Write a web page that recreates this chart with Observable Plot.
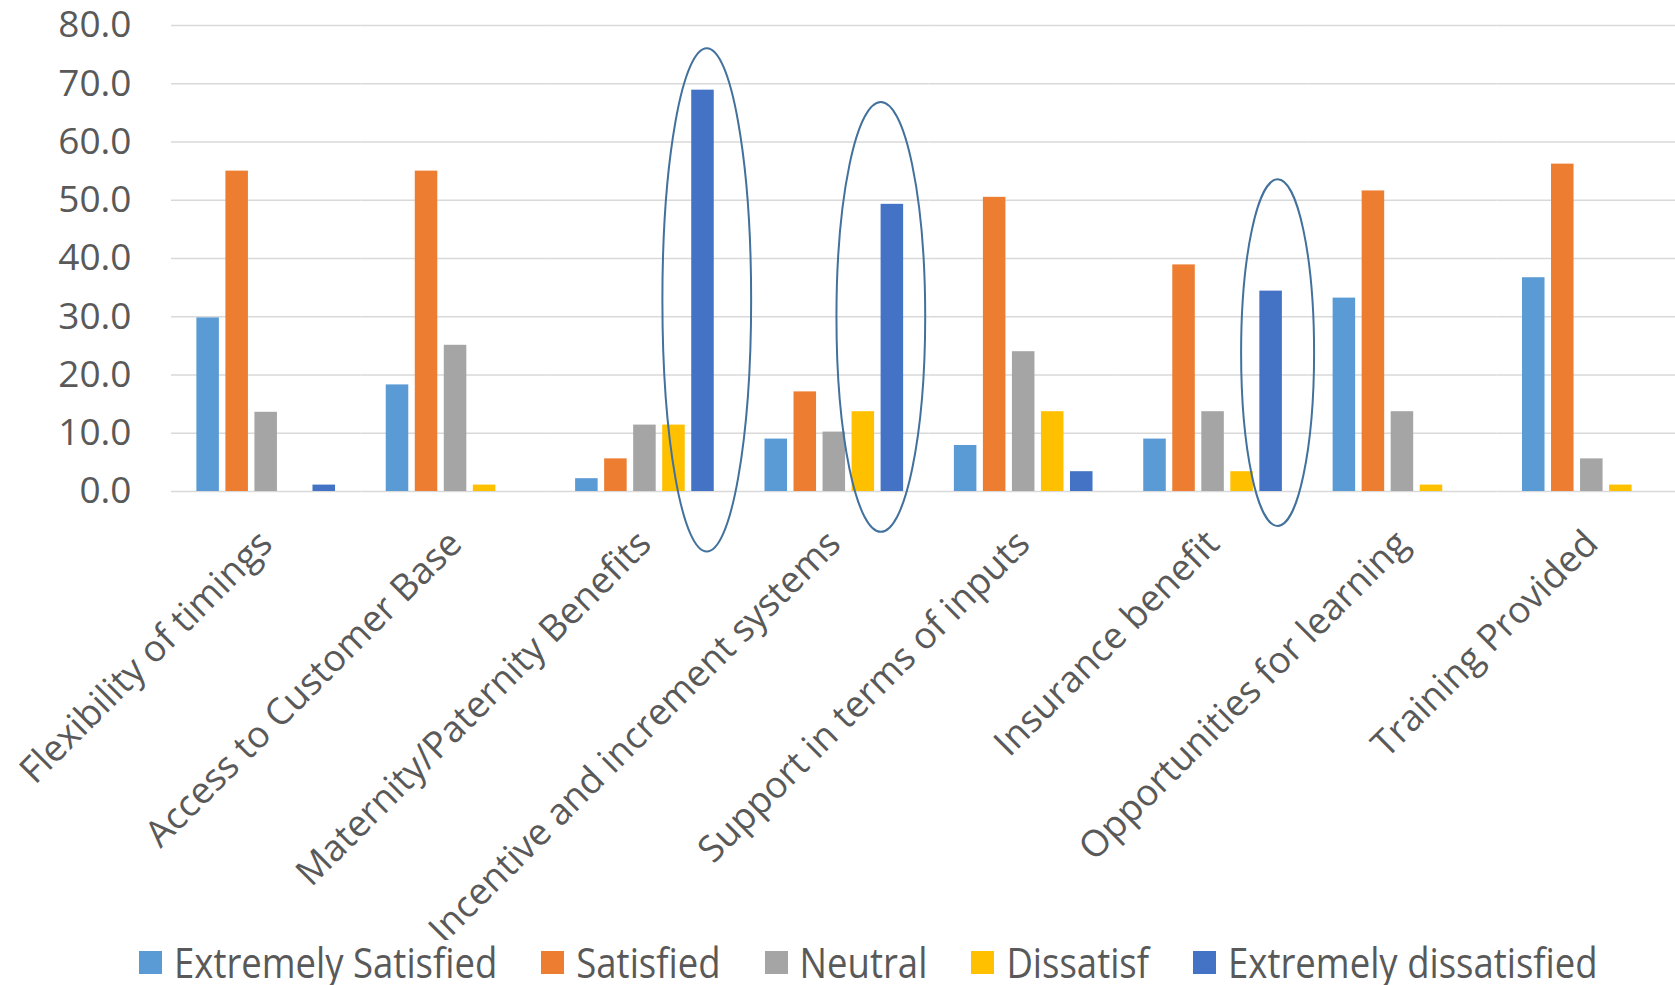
<!DOCTYPE html>
<html>
<head>
<meta charset="utf-8">
<script src="https://cdn.jsdelivr.net/npm/d3@7"></script>
<script src="https://cdn.jsdelivr.net/npm/@observablehq/plot@0.6"></script>
<style>
  html, body { margin: 0; padding: 0; background: #fff; overflow: hidden; width: 1675px; height: 985px; }
  #chart { width: 1675px; height: 940px; overflow: hidden; }
  #chart svg { max-width: none !important; }
  #legend { height: 45px; display: flex; align-items: center; padding-left: 139px; gap: 44px;
            font-family: "Open Sans", sans-serif; font-size: 36.5px; color: #595959; }
  .item { display: flex; align-items: center; gap: 12px; }
  .sw { width: 23px; height: 23px; display: inline-block; }
  .lbl { display: inline-block; transform: scaleY(1.15); line-height: 1; }
</style>
</head>
<body>
<div id="chart"></div>
<div id="legend"></div>
<script>
const categories = ["Flexibility of timings", "Access to Customer Base", "Maternity/Paternity Benefits",
  "Incentive and increment systems", "Support in terms of inputs", "Insurance benefit",
  "Opportunities for learning", "Training Provided"];
const seriesNames = ["Extremely Satisfied", "Satisfied", "Neutral", "Dissatisf", "Extremely dissatisfied"];
const extremelySatisfied    = [29.8, 18.3, 2.2, 9.0, 7.9, 9.0, 33.2, 36.7];
const satisfied             = [55.0, 55.0, 5.6, 17.1, 50.5, 38.9, 51.6, 56.2];
const neutral               = [13.6, 25.1, 11.4, 10.2, 24.0, 13.7, 13.7, 5.6];
const dissatisf             = [0.0, 1.1, 11.4, 13.7, 13.7, 3.4, 1.1, 1.1];
const extremelyDissatisfied = [1.1, 0.0, 68.9, 49.3, 3.4, 34.4, 0.0, 0.0];
const seriesColors = ["#5B9BD5", "#ED7D31", "#A5A5A5", "#FFC000", "#4472C4"];
const yTicks = [0, 10, 20, 30, 40, 50, 60, 70, 80];

// highlighted (circled) bars: category, vertical extent of the ellipse in data units
const highlightCategories = ["Maternity/Paternity Benefits", "Incentive and increment systems", "Insurance benefit"];
const highlightTop = [76.0, 66.8, 53.5];
const highlightBottom = [-10.4, -7.0, -6.0];
// ellipse style: half-width and horizontal shift, in bar widths
const highlightWidth = [1.97, 1.97, 1.62];
const highlightShift = [0.19, -0.49, 0.31];

const allSeries = [extremelySatisfied, satisfied, neutral, dissatisf, extremelyDissatisfied];
const rows = [];
categories.forEach((c, ci) => seriesNames.forEach((s, si) => rows.push({category: c, series: s, value: allSeries[si][ci]})));
const highlights = highlightCategories.map((c, i) => ({category: c, series: "Extremely dissatisfied",
  top: highlightTop[i], bottom: highlightBottom[i], k: highlightWidth[i], s: highlightShift[i]}));

const ellipses = Plot.dot(highlights, {
  fx: "category", x: "series", y: "top",
  render(index, scales) {
    const g = d3.create("svg:g");
    const xs = scales.x;
    const bw = typeof xs.bandwidth === "function" ? xs.bandwidth() : (xs.bandwidth ?? 0);
    for (const i of index) {
      const d = highlights[i];
      const cx = xs(d.series) + bw / 2 + bw * d.s;
      const y1 = scales.y(d.top), y2 = scales.y(d.bottom);
      g.append("ellipse")
        .attr("cx", cx).attr("cy", (y1 + y2) / 2)
        .attr("rx", bw * d.k).attr("ry", Math.abs(y2 - y1) / 2)
        .attr("fill", "none").attr("stroke", "#41719C").attr("stroke-width", 2);
    }
    return g.node();
  }
});

const chart = Plot.plot({
  width: 1686, height: 940,
  marginLeft: 171, marginRight: 0, marginTop: 25, marginBottom: 449,
  style: {fontFamily: "'Open Sans', sans-serif", color: "#595959", background: "white", overflow: "visible"},
  fx: {domain: categories, padding: 0, round: false, label: null},
  x: {domain: seriesNames, paddingInner: 0.224, paddingOuter: 0.874, round: false, axis: null},
  y: {domain: [0, 80]},
  color: {domain: seriesNames, range: seriesColors},
  marks: [
    Plot.gridY(yTicks, {stroke: "#D9D9D9", strokeOpacity: 1, strokeWidth: 1.5}),
    Plot.barY(rows, {fx: "category", x: "series", y: "value", fill: "series"}),
    ellipses,
    Plot.axisY(yTicks, {tickFormat: d => d.toFixed(1), tickSize: 0, tickPadding: 40, fontSize: 37, label: null, fill: "#595959"}),
    Plot.axisFx({anchor: "bottom", tickRotate: -45, tickSize: 0, tickPadding: 46, fontSize: 36.8, label: null, fill: "#595959"})
  ]
});
document.getElementById("chart").appendChild(chart);

const legend = d3.select("#legend");
seriesNames.forEach((s, i) => {
  const it = legend.append("div").attr("class", "item");
  it.append("span").attr("class", "sw").style("background", seriesColors[i]);
  it.append("span").attr("class", "lbl").text(s);
});
</script>
</body>
</html>
